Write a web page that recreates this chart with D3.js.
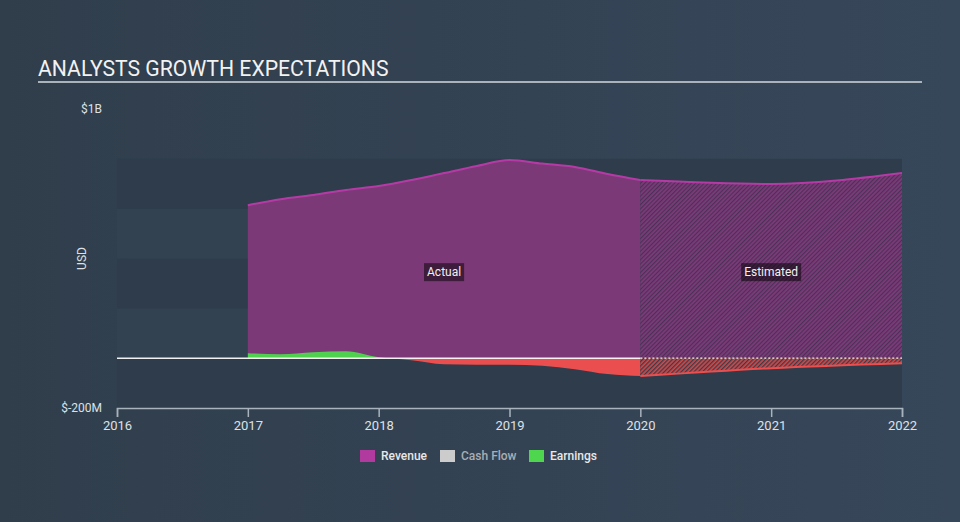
<!DOCTYPE html>
<html>
<head>
<meta charset="utf-8">
<script src="https://cdn.jsdelivr.net/npm/d3@7/dist/d3.min.js"></script>
<style>
  html, body { margin: 0; padding: 0; background: #344353; }
  svg { display: block; }
  text { font-family: Roboto, "Liberation Sans", Arial, sans-serif; }
</style>
</head>
<body>
<svg id="chart" width="960" height="522"></svg>
<script>
// ---- data (values in billions USD) ----
const actualYears   = [2017, 2017.25, 2017.5, 2017.75, 2018, 2018.25, 2018.5, 2018.75, 2019, 2019.25, 2019.5, 2019.75, 2020];
const revenueActual = [0.614, 0.638, 0.655, 0.675, 0.691, 0.715, 0.743, 0.771, 0.795, 0.781, 0.767, 0.739, 0.715];
const earningsActual= [0.020, 0.016, 0.024, 0.028, 0.004, -0.008, -0.024, -0.026, -0.026, -0.030, -0.044, -0.064, -0.072];
const estYears      = [2020, 2021, 2022];
const revenueEst    = [0.715, 0.699, 0.743];
const earningsEst   = [-0.072, -0.040, -0.020];
const xTicks        = [2016, 2017, 2018, 2019, 2020, 2021, 2022];
const yTickLabels   = [{v: 1.0, t: "$1B"}, {v: -0.2, t: "$-200M"}];
const bandEdges     = [-0.2, 0, 0.2, 0.4, 0.6];
const legendItems   = [{name: "Revenue", color: "#b03a9e", text: "#e8e8e8"},
                       {name: "Cash Flow", color: "#cccccc", text: "#a8aeb4"},
                       {name: "Earnings", color: "#4fd64f", text: "#e8e8e8"}];

const svg = d3.select("#chart");
const W = 960, H = 522;

// background gradient
const defs = svg.append("defs");
const bg = defs.append("linearGradient").attr("id", "bg").attr("x1", "0").attr("y1", "0").attr("x2", "1").attr("y2", "0");
bg.append("stop").attr("offset", "0").attr("stop-color", "#303e4c");
bg.append("stop").attr("offset", "1").attr("stop-color", "#37475a");
svg.append("rect").attr("width", W).attr("height", H).attr("fill", "url(#bg)");

const x = d3.scaleLinear().domain([2016, 2022]).range([117, 902]);
const y = d3.scaleLinear().domain([-0.2, 1.0]).range([408, 109]);

// hatch patterns
function hatch(id, base, stripe, sw) {
  const p = defs.append("pattern").attr("id", id).attr("patternUnits", "userSpaceOnUse")
    .attr("width", 3).attr("height", 3).attr("patternTransform", "rotate(45)");
  p.append("rect").attr("width", 3).attr("height", 3).attr("fill", base);
  p.append("rect").attr("width", sw).attr("height", 3).attr("fill", stripe);
}
hatch("hatchRev", "#7c3a78", "#4a3156", 1.1);
hatch("hatchEarn", "#d04a4a", "#3c3a48", 1.3);

// clip paths for earnings sign
defs.append("clipPath").attr("id", "above").append("rect")
  .attr("x", 0).attr("y", 0).attr("width", W).attr("height", y(0));
defs.append("clipPath").attr("id", "below").append("rect")
  .attr("x", 0).attr("y", y(0)).attr("width", W).attr("height", H - y(0));

// bands
for (let i = 0; i < bandEdges.length; i++) {
  const lo = bandEdges[i], hi = lo + 0.2;
  svg.append("rect")
    .attr("x", x(2016)).attr("width", x(2022) - x(2016))
    .attr("y", y(hi)).attr("height", y(lo) - y(hi))
    .attr("fill", i % 2 === 0 ? "#2e3c4b" : "#334251");
}

const actual = actualYears.map((t, i) => ({t, r: revenueActual[i], e: earningsActual[i]}));
const est = estYears.map((t, i) => ({t, r: revenueEst[i], e: earningsEst[i]}));

const areaRev = d3.area().curve(d3.curveMonotoneX).x(d => x(d.t)).y0(y(0)).y1(d => y(d.r));
const lineRev = d3.line().curve(d3.curveMonotoneX).x(d => x(d.t)).y(d => y(d.r));
const areaEarn = d3.area().curve(d3.curveMonotoneX).x(d => x(d.t)).y0(y(0)).y1(d => y(d.e));
const lineEarn = d3.line().curve(d3.curveMonotoneX).x(d => x(d.t)).y(d => y(d.e));

// revenue
svg.append("path").datum(actual).attr("d", areaRev).attr("fill", "#7b3a77");
svg.append("path").datum(est).attr("d", areaRev).attr("fill", "url(#hatchRev)");
svg.append("path").datum(actual).attr("d", lineRev).attr("fill", "none").attr("stroke", "#b63aa6").attr("stroke-width", 2);
svg.append("path").datum(est).attr("d", lineRev).attr("fill", "none").attr("stroke", "#b63aa6").attr("stroke-width", 2);

// earnings
svg.append("path").datum(actual).attr("d", areaEarn).attr("fill", "#4fd14f").attr("clip-path", "url(#above)");
svg.append("path").datum(actual).attr("d", areaEarn).attr("fill", "#ea4e4e").attr("clip-path", "url(#below)");
svg.append("path").datum(est).attr("d", areaEarn).attr("fill", "url(#hatchEarn)");
svg.append("path").datum(est).attr("d", lineEarn).attr("fill", "none").attr("stroke", "#ea4e4e").attr("stroke-width", 2);

// zero line
svg.append("line").attr("x1", x(2016)).attr("x2", x(2020)).attr("y1", y(0)).attr("y2", y(0))
  .attr("stroke", "#f2f2f2").attr("stroke-width", 1.5);
svg.append("line").attr("x1", x(2020)).attr("x2", x(2022)).attr("y1", y(0)).attr("y2", y(0))
  .attr("stroke", "#f2f2f2").attr("stroke-width", 1.2).attr("stroke-dasharray", "2,2");

// Actual / Estimated labels
function tag(cx, label) {
  const g = svg.append("g");
  const t = g.append("text").attr("x", cx).attr("y", y(0.35) + 1).attr("text-anchor", "middle")
    .attr("dy", "0.35em").attr("fill", "#f0f0f0").attr("font-size", 12).text(label);
  const bb = t.node().getBBox();
  g.insert("rect", "text").attr("x", bb.x - 3).attr("y", bb.y - 2).attr("width", bb.width + 6)
    .attr("height", bb.height + 4).attr("fill", "#000").attr("opacity", 0.5);
}
tag((x(2017) + x(2020)) / 2, "Actual");
tag((x(2020) + x(2022)) / 2, "Estimated");

// x axis
const xAxis = d3.axisBottom(x).tickValues(xTicks).tickFormat(d3.format("d")).tickSize(9).tickPadding(4);
const gx = svg.append("g").attr("transform", `translate(0,${y(-0.2)})`).call(xAxis);
gx.select(".domain").attr("stroke", "#a9b3bd").attr("stroke-width", 1.5);
gx.selectAll(".tick line").attr("stroke", "#a9b3bd").attr("stroke-width", 1.5);
gx.selectAll(".tick text").attr("fill", "#dde1e5").attr("font-size", 13)
  .attr("font-family", "Roboto, sans-serif");

// y labels
svg.selectAll(".ylab").data(yTickLabels).enter().append("text")
  .attr("x", 102).attr("y", d => y(d.v)).attr("dy", "0.35em").attr("text-anchor", "end")
  .attr("fill", "#dde1e5").attr("font-size", 12).text(d => d.t);
svg.append("text").attr("transform", `translate(86,${y(0.4)}) rotate(-90)`)
  .attr("text-anchor", "middle").attr("fill", "#dde1e5").attr("font-size", 12).text("USD");

// title
svg.append("text").attr("x", 38).attr("y", 76).attr("fill", "#f2f2f2").attr("font-size", 21.2)
  .text("ANALYSTS GROWTH EXPECTATIONS");
svg.append("line").attr("x1", 38).attr("x2", 922).attr("y1", 82).attr("y2", 82)
  .attr("stroke", "#aab2ba").attr("stroke-width", 2);

// legend
const legendX = [360, 440, 529];
legendItems.forEach((d, i) => {
  const g = svg.append("g").attr("transform", `translate(${legendX[i]},456)`);
  g.append("rect").attr("x", 0).attr("y", -6).attr("width", 15).attr("height", 12).attr("fill", d.color);
  g.append("text").attr("x", 21).attr("y", 0).attr("dy", "0.35em").attr("fill", d.text)
    .attr("font-size", 12).attr("font-weight", 500).text(d.name);
});
</script>
</body>
</html>
